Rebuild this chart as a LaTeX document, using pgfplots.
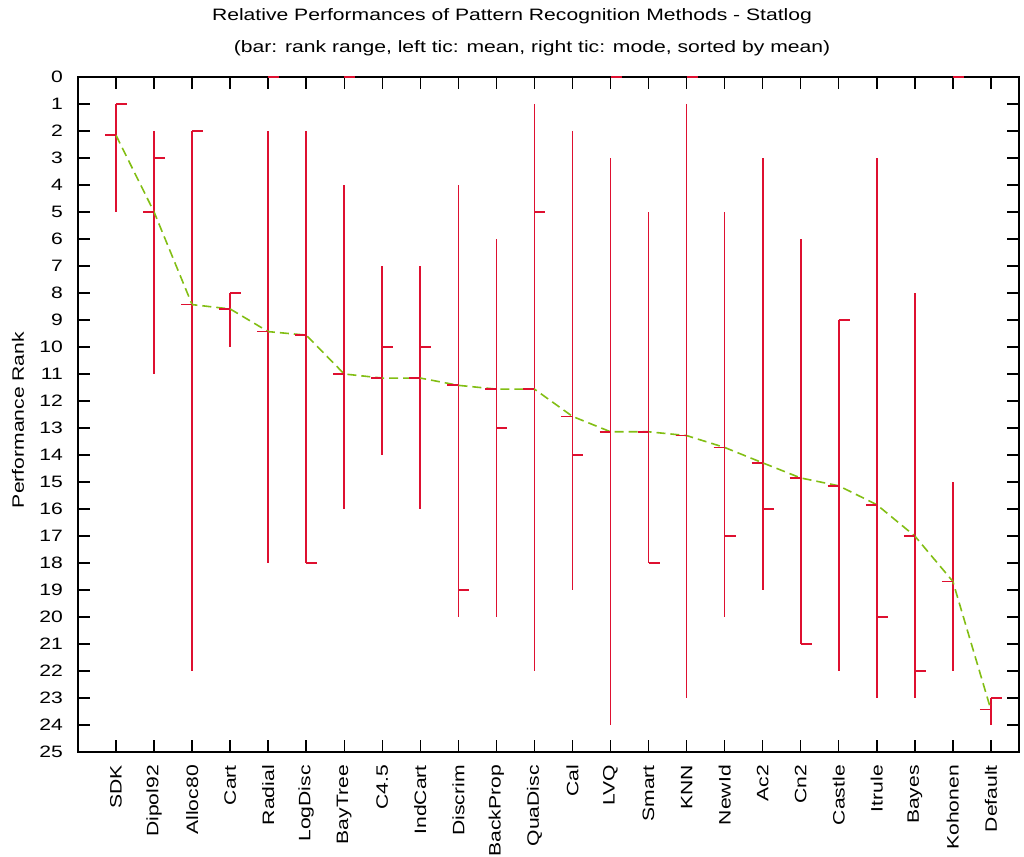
\documentclass[border=0pt]{standalone}
\usepackage{fontspec}
\setmainfont{Liberation Sans}[FakeStretch=1.28]
\usepackage{pgfplots}
\usepackage{pgfplotstable}
\pgfplotsset{compat=1.18}

\definecolor{rangered}{RGB}{222,16,48}
\definecolor{meangreen}{RGB}{130,190,20}

% short horizontal tics: mean to the left of the bar, mode to the right
\pgfdeclareplotmark{lefttic}{%
  \pgfpathmoveto{\pgfqpoint{-\pgfplotmarksize}{0pt}}%
  \pgfpathlineto{\pgfqpoint{0pt}{0pt}}%
  \pgfusepathqstroke}
\pgfdeclareplotmark{righttic}{%
  \pgfpathmoveto{\pgfqpoint{0pt}{0pt}}%
  \pgfpathlineto{\pgfqpoint{\pgfplotmarksize}{0pt}}%
  \pgfusepathqstroke}

% rank statistics per method (mode 0 = no mode)
\pgfplotstableread{
x  name     lo  hi  mean   mode
1  SDK      1   5   2.16   1
2  Dipol92  2   11  5.00   3
3  Alloc80  2   22  8.43   2
4  Cart     8   10  8.59   8
5  Radial   2   18  9.43   0
6  LogDisc  2   18  9.56   18
7  BayTree  4   16  11.00  0
8  C4.5     7   14  11.15  10
9  IndCart  7   16  11.15  10
10 Discrim  4   20  11.42  19
11 BackProp 6   20  11.56  13
12 QuaDisc  1   22  11.56  5
13 Cal      2   19  12.57  14
14 LVQ      3   24  13.14  0
15 Smart    5   18  13.14  18
16 KNN      1   23  13.28  0
17 NewId    5   20  13.72  17
18 Ac2      3   19  14.29  16
19 Cn2      6   21  14.85  21
20 Castle   9   22  15.14  9
21 Itrule   3   23  15.84  20
22 Bayes    8   23  17.00  22
23 Kohonen  15  22  18.68  0
24 Default  23  24  23.43  23
}\statlog

\begin{document}
\begin{tikzpicture}[font=\fontsize{16.5}{20}\selectfont]
\begin{axis}[
  scale only axis,
  width=941pt, height=675pt,
  xmin=0, xmax=24.74,
  ymin=0, ymax=25,
  y dir=reverse,
  ytick={0,...,25},
  xtick={1,...,24},
  xticklabels from table={\statlog}{name},
  xticklabel style={rotate=90, anchor=east, inner sep=0pt},
  xticklabel shift=13pt,
  yticklabel style={anchor=east, inner sep=0pt},
  yticklabel shift=15pt,
  /pgf/number format/assume math mode=true,
  tick align=inside,
  major tick length=12pt,
  tick style={line width=1.5pt, black},
  axis line style={line width=1.3pt, black},
  clip=false,
]
\coordinate (O) at (rel axis cs:0,0);
% rank range bars
\addplot[draw=none, mark=none, forget plot,
  error bars/.cd, y dir=plus, y explicit,
  error mark=none,
  error bar style={draw=rangered, line width=1.7pt}]
  table[x=x, y=lo, y error expr=\thisrow{hi}-\thisrow{lo}] {\statlog};
% mean tics
\addplot[rangered, only marks, mark=lefttic, mark size=11pt,
  mark options={draw=rangered, line width=1.7pt}]
  table[x=x, y=mean] {\statlog};
% mode tics
\addplot[rangered, only marks, mark=righttic, mark size=11pt,
  mark options={draw=rangered, line width=1.7pt}]
  table[x=x, y=mode] {\statlog};
% means joined
\addplot[meangreen, line width=1.6pt, dash pattern=on 9pt off 5pt, mark=none]
  table[x=x, y=mean] {\statlog};
\end{axis}
\node at ([shift={(434pt,736pt)}]O) {Relative Performances of Pattern Recognition Methods - Statlog};
\node at ([shift={(454pt,704pt)}]O) {(bar: rank range, left tic: mean, right tic: mode, sorted by mean)};
\node[rotate=90] at ([shift={(-60pt,332pt)}]O) {Performance Rank};
\path[use as bounding box] ([shift={(-78pt,-100pt)}]O) rectangle ([shift={(946pt,752pt)}]O);
\end{tikzpicture}
\end{document}
